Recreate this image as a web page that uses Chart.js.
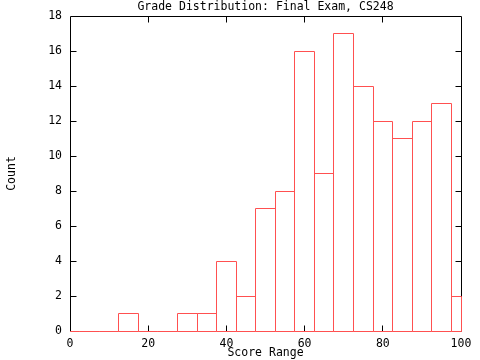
<!DOCTYPE html>
<html>
<head>
<meta charset="utf-8">
<script src="https://cdn.jsdelivr.net/npm/chart.js@4/dist/chart.umd.min.js"></script>
<style>
  html, body { margin: 0; padding: 0; background: #fff; }
  canvas { display: block; }
</style>
</head>
<body>
<canvas id="chart" width="480" height="360"></canvas>
<script>
// bin centres (score) and number of students in each 5-point bin
const binCenters = [0, 5, 10, 15, 20, 25, 30, 35, 40, 45, 50, 55, 60, 65, 70, 75, 80, 85, 90, 95, 100]
const counts = [0, 0, 0, 1, 0, 0, 1, 1, 4, 2, 7, 8, 16, 9, 17, 14, 12, 11, 12, 13, 2]
const xTicks = [0, 20, 40, 60, 80, 100]
const yTicks = [0, 2, 4, 6, 8, 10, 12, 14, 16, 18]
const title = 'Grade Distribution: Final Exam, CS248'

const FONT = { family: 'DejaVu Sans Mono', size: 11.5, lineHeight: '14px' }
const RED = '#ff5050'

const snap = (v) => Math.floor(v) + 0.5

// gnuplot look: black frame on left/top/right, inward ticks mirrored on all sides,
// then each box outlined (1px, shared edges drawn once), clipped to the plot
const gnuplotBoxes = {
  id: 'gnuplotBoxes',
  beforeDatasetsDraw(chart) {
    const { ctx, chartArea: a, scales } = chart
    const len = 6
    ctx.save()
    ctx.strokeStyle = '#000'
    ctx.lineWidth = 1
    ctx.beginPath()
    ctx.moveTo(snap(a.left), snap(a.bottom))
    ctx.lineTo(snap(a.left), snap(a.top))
    ctx.lineTo(snap(a.right), snap(a.top))
    ctx.lineTo(snap(a.right), snap(a.bottom))
    xTicks.forEach(v => {
      const x = snap(scales.x.getPixelForValue(v))
      if (v > 0 && v < 100) {
        ctx.moveTo(x, snap(a.bottom)); ctx.lineTo(x, snap(a.bottom) - len)
        ctx.moveTo(x, snap(a.top)); ctx.lineTo(x, snap(a.top) + len)
      }
    })
    yTicks.forEach(v => {
      const y = snap(scales.y.getPixelForValue(v))
      if (v > 0 && v < 18) {
        ctx.moveTo(snap(a.left), y); ctx.lineTo(snap(a.left) + len, y)
        ctx.moveTo(snap(a.right), y); ctx.lineTo(snap(a.right) - len, y)
      }
    })
    ctx.stroke()
    ctx.restore()
  },
  afterDatasetsDraw(chart) {
    const { ctx, chartArea: a } = chart
    const bars = chart.getDatasetMeta(0).data
    ctx.save()
    ctx.strokeStyle = RED
    ctx.lineWidth = 1
    ctx.beginPath()
    bars.forEach(bar => {
      const { x, y, base, width } = bar.getProps(['x', 'y', 'base', 'width'], true)
      const l = snap(Math.max(x - width / 2, a.left))
      const r = snap(Math.min(x + width / 2, a.right))
      const t = snap(y)
      const b = snap(base)
      ctx.moveTo(l, b)
      ctx.lineTo(l, t)
      ctx.lineTo(r, t)
      ctx.lineTo(r, b)
      ctx.closePath()
    })
    ctx.stroke()
    ctx.restore()
  },
  afterDraw(chart) {
    // title centred over the plot area, like gnuplot does
    const { ctx, chartArea: a } = chart
    ctx.save()
    ctx.fillStyle = '#000'
    ctx.font = FONT.size + 'px "' + FONT.family + '"'
    ctx.textAlign = 'center'
    ctx.textBaseline = 'middle'
    ctx.fillText(title, (a.left + a.right) / 2, 7)
    ctx.restore()
  }
}

new Chart(document.getElementById('chart'), {
  type: 'bar',
  data: {
    datasets: [{
      label: 'Count',
      data: binCenters.map((x, i) => ({ x: x, y: counts[i] })),
      backgroundColor: 'rgba(0,0,0,0)',
      borderWidth: 0,
      barPercentage: 1,
      categoryPercentage: 1
    }]
  },
  options: {
    responsive: false,
    animation: false,
    devicePixelRatio: 1,
    layout: { padding: { left: 0, right: 19, top: 16, bottom: 0 } },
    plugins: {
      legend: { display: false },
      tooltip: { enabled: false },
      title: { display: false }
    },
    scales: {
      x: {
        type: 'linear',
        min: 0,
        max: 100,
        offset: false,
        afterBuildTicks: (scale) => { scale.ticks = xTicks.map(v => ({ value: v })) },
        afterFit: (scale) => { scale.height = 29 },
        grid: { display: false, drawTicks: false },
        border: { display: false },
        ticks: { color: '#000', font: FONT, padding: 6, maxRotation: 0, autoSkip: false },
        title: {
          display: true,
          text: 'Score Range',
          color: '#000',
          font: FONT,
          padding: { top: 0, bottom: 0 }
        }
      },
      y: {
        min: 0,
        max: 18,
        afterBuildTicks: (scale) => { scale.ticks = yTicks.map(v => ({ value: v })) },
        afterFit: (scale) => { scale.width = 70 },
        grid: { display: false, drawTicks: false },
        border: { display: false },
        ticks: { color: '#000', font: FONT, padding: 8, autoSkip: false },
        title: {
          display: true,
          text: 'Count',
          color: '#000',
          font: FONT,
          padding: { top: 5, bottom: 0 }
        }
      }
    }
  },
  plugins: [gnuplotBoxes]
})
</script>
</body>
</html>
